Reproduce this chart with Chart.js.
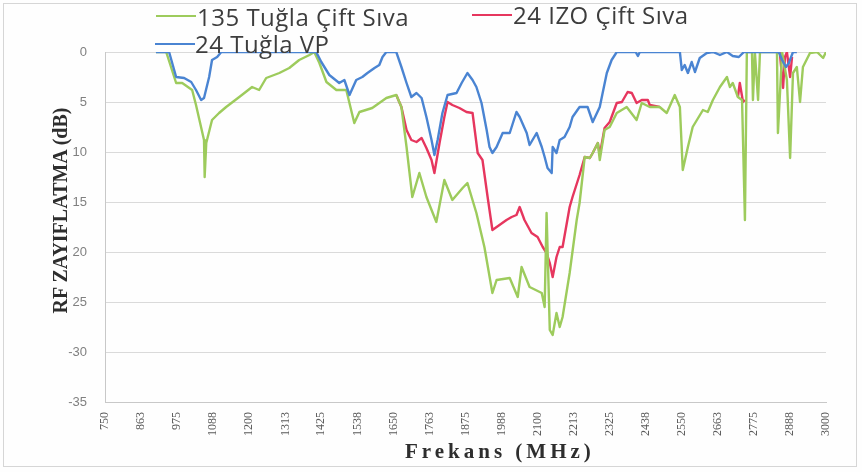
<!DOCTYPE html>
<html>
<head>
<meta charset="utf-8">
<script src="https://cdn.jsdelivr.net/npm/chart.js@4.4.1/dist/chart.umd.min.js"></script>
<style>
  html, body { margin: 0; padding: 0; background: #ffffff; }
  #wrap { position: relative; width: 862px; height: 472px; overflow: hidden; background: #fefefe; }
  #frame { position: absolute; left: 3px; top: 3px; width: 854px; height: 464px; border: 1px solid #d6d6d6; box-sizing: border-box; pointer-events: none; }
  canvas { position: absolute; left: 0; top: 0; }
  .leg { position: absolute; font-family: "Open Sans", sans-serif; font-size: 24px; line-height: 24px; letter-spacing: 0.5px; color: #3d3d3d; white-space: nowrap; }
  .legline { position: absolute; height: 2px; width: 40px; }
  #ytitle { position: absolute; font-family: "Liberation Serif", serif; font-weight: bold; font-size: 20px; color: #2e2e2e; white-space: nowrap; transform-origin: center center; }
  #xtitle { position: absolute; font-family: "Liberation Serif", serif; font-weight: bold; font-size: 21px; letter-spacing: 4px; color: #2e2e2e; white-space: nowrap; }
</style>
</head>
<body>
<div id="wrap">
  <canvas id="c" width="862" height="472"></canvas>
  <div id="frame"></div>
  <div class="legline" style="left:156px; top:15px; background:#9dcb5c;"></div>
  <div class="leg" id="l1" style="left:197px; top:5px;">135 Tuğla Çift Sıva</div>
  <div class="legline" style="left:472px; top:14px; background:#e6365e;"></div>
  <div class="leg" id="l2" style="left:513px; top:3px;">24 IZO Çift Sıva</div>
  <div class="legline" style="left:155px; top:43px; background:#4a84d2;"></div>
  <div class="leg" id="l3" style="left:195px; top:32px;">24 Tuğla VP</div>
  <div id="ytitle">RF ZAYIFLATMA (dB)</div>
  <div id="xtitle">Frekans (MHz)</div>
</div>
<script>
// ---- tick labels ----
const xTickLabels = ['750','863','975','1088','1200','1313','1425','1538','1650','1763','1875','1988','2100','2213','2325','2438','2550','2663','2775','2888','3000'];
const yTickLabels = ['0','5','10','15','20','25','-30','-35'];

// ---- series: 135 Tuğla Çift Sıva (green) ----
const greenFreq = [909,941,944,972,991,1022,1034,1059,1061,1066,1084,1106,1128,1169,1209,1231,1253,1294,1325,1356,1388,1403,1419,1441,1472,1503,1528,1544,1584,1628,1659,1675,1691,1709,1731,1753,1784,1809,1834,1866,1881,1909,1934,1959,1972,2013,2038,2050,2075,2113,2122,2128,2138,2147,2159,2169,2178,2200,2222,2231,2247,2263,2272,2288,2294,2309,2325,2347,2378,2409,2425,2450,2481,2503,2528,2544,2553,2569,2584,2616,2631,2647,2669,2691,2700,2709,2725,2738,2747,2753,2769,2772,2778,2788,2794,2847,2850,2863,2878,2888,2897,2909,2919,2928,2950,2972,2991,3000];
const greenDb   = [0,0,-0.3,-3.1,-3.1,-3.8,-5.3,-8.8,-12.5,-9.1,-6.8,-6.1,-5.5,-4.5,-3.5,-3.8,-2.6,-2.1,-1.6,-0.8,-0.3,0,-1.1,-3.0,-3.8,-3.8,-7.1,-6.0,-5.6,-4.6,-4.3,-5.5,-9.5,-14.5,-12.1,-14.5,-17.0,-12.8,-14.8,-13.6,-13.1,-16.1,-19.5,-24.1,-22.8,-22.6,-24.5,-21.5,-23.5,-24.1,-25.5,-16.1,-27.8,-28.3,-26.1,-27.5,-26.5,-22.1,-16.8,-15.1,-10.5,-10.6,-10.1,-9.1,-10.8,-7.8,-7.5,-6.1,-5.5,-6.8,-5.1,-5.5,-5.5,-6.1,-4.3,-5.5,-11.8,-9.5,-7.5,-5.8,-6.0,-4.8,-3.5,-2.5,-3.5,-3.1,-4.5,-4.8,-16.8,0,0,-4.8,0,-4.8,0,0,-8.1,0,-2.8,-10.6,-2.1,-1.5,-5.0,-1.5,-0.1,0,-0.6,0];

// ---- series: 24 IZO Çift Sıva (red) ----
const redFreq = [1659,1675,1691,1706,1722,1738,1753,1769,1778,1794,1809,1819,1834,1856,1878,1897,1913,1928,1944,1959,1981,2003,2019,2034,2044,2059,2081,2100,2116,2128,2138,2147,2159,2169,2178,2200,2209,2216,2231,2247,2263,2272,2288,2294,2309,2325,2347,2363,2381,2394,2409,2425,2444,2450,2481,2500,2725,2731,2741,2747,2760,2847,2856,2866,2872,2878,2888,2894,2900];
const redDb   = [-4.3,-5.5,-7.8,-8.8,-9.0,-8.6,-9.6,-10.8,-12.1,-9.1,-6.5,-5.0,-5.3,-5.6,-6.0,-6.1,-10.1,-10.8,-14.5,-17.8,-17.3,-16.8,-16.5,-16.3,-15.5,-16.8,-18.1,-18.5,-19.5,-20.1,-21.1,-22.5,-20.5,-19.5,-19.5,-15.5,-14.5,-13.8,-12.3,-10.5,-10.6,-10.1,-9.1,-10.3,-7.6,-7.0,-5.1,-5.0,-4.0,-4.1,-5.1,-4.8,-4.8,-5.3,-5.5,null,-4.5,-3.1,-5.0,-4.8,null,0,-0.1,-3.6,-0.5,0,-2.5,-0.5,null];

// ---- series: 24 Tuğla VP (blue) ----
const blueFreq = [909,950,972,997,1019,1034,1050,1059,1075,1084,1100,1113,1409,1425,1450,1481,1497,1513,1534,1553,1569,1591,1606,1616,1628,1659,1675,1691,1706,1722,1738,1753,1769,1778,1788,1803,1819,1847,1863,1881,1897,1909,1925,1941,1950,1959,1972,1991,2013,2034,2044,2066,2075,2097,2113,2122,2131,2144,2147,2159,2169,2184,2200,2209,2231,2256,2272,2294,2303,2316,2331,2347,2406,2413,2419,2544,2550,2559,2569,2581,2591,2606,2628,2647,2669,2691,2709,2728,2744,2853,2863,2875,2884,2897,2909];
const blueDb   = [0,0,-2.5,-2.6,-3.0,-3.8,-4.8,-4.6,-2.5,-0.8,-0.5,0,0,-1.0,-2.3,-3.1,-2.8,-4.3,-2.8,-2.5,-2.1,-1.6,-1.3,-0.5,0,0,-1.5,-3.1,-4.5,-4.1,-4.6,-6.5,-8.8,-10.3,-8.8,-6.1,-4.3,-4.1,-3.1,-2.1,-2.8,-3.5,-5.1,-7.8,-9.5,-10.1,-9.5,-8.1,-8.1,-6.0,-6.5,-8.1,-9.3,-8.1,-9.5,-10.5,-11.6,-12.1,-9.5,-10.1,-8.8,-8.5,-7.5,-6.5,-5.5,-5.5,-7.0,-5.5,-4.1,-2.1,-0.8,0,0,-0.4,0,0,-1.8,-1.3,-2.1,-1.0,-2.0,-0.6,-0.1,0,-0.3,0,-0.4,-0.5,0,0,-0.8,-1.5,-1.1,0,0];

function pts(fr, db) { return fr.map((f, i) => ({ x: f, y: db[i] })); }

const ctx = document.getElementById('c').getContext('2d');
new Chart(ctx, {
  type: 'line',
  data: {
    datasets: [
      { label: '24 Tuğla VP', data: pts(blueFreq, blueDb), borderColor: '#4a84d2', borderWidth: 2.4 },
      { label: '135 Tuğla Çift Sıva', data: pts(greenFreq, greenDb), borderColor: '#9dcb5c', borderWidth: 2.4 },
      { label: '24 IZO Çift Sıva', data: pts(redFreq, redDb), borderColor: '#e6365e', borderWidth: 2.4 }
    ]
  },
  options: {
    responsive: false,
    devicePixelRatio: 1,
    animation: false,
    spanGaps: false,
    elements: { point: { radius: 0 }, line: { tension: 0, borderJoinStyle: 'round' } },
    layout: { padding: { left: 0, top: 52, right: 36, bottom: 0 } },
    plugins: { legend: { display: false }, tooltip: { enabled: false }, title: { display: false } },
    scales: {
      x: {
        type: 'linear',
        min: 750, max: 3000,
        afterFit: s => { s.height = 70; },
        afterBuildTicks: s => { s.ticks = xTickLabels.map(l => ({ value: Number(l) })); },
        grid: { display: false, drawTicks: false },
        border: { display: true, color: '#c8c8c8', width: 1 },
        ticks: {
          autoSkip: false, minRotation: 90, maxRotation: 90, padding: 10,
          color: '#5a5a5a', font: { family: 'Liberation Serif', size: 12 },
          callback: (v, i) => xTickLabels[i]
        }
      },
      y: {
        type: 'linear',
        min: -35, max: 0,
        afterFit: s => { s.width = 105; },
        grid: { color: '#dadada', drawTicks: false, lineWidth: 1 },
        border: { display: true, color: '#c8c8c8', width: 1 },
        ticks: {
          stepSize: 5, padding: 18,
          color: '#808080', font: { family: 'Liberation Sans', size: 13 },
          callback: v => yTickLabels[Math.round(-v / 5)]
        }
      }
    }
  }
});

// axis titles positioning
const yt = document.getElementById('ytitle');
const w = yt.offsetWidth, h = yt.offsetHeight;
yt.style.left = (61 - w / 2) + 'px';
yt.style.top = (210 - h / 2) + 'px';
yt.style.transform = 'rotate(-90deg)';
const xt = document.getElementById('xtitle');
xt.style.left = (500 - xt.offsetWidth / 2) + 'px';
xt.style.top = (451 - xt.offsetHeight / 2) + 'px';
</script>
</body>
</html>
